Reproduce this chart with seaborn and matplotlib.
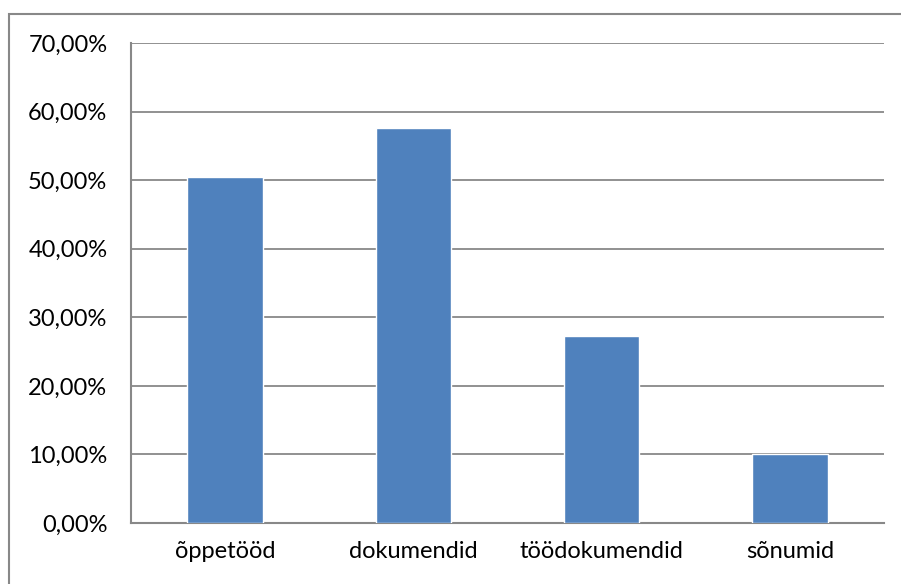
import matplotlib
matplotlib.use("Agg")
import matplotlib.pyplot as plt
import matplotlib.patches as mpatches
from matplotlib.ticker import FuncFormatter, MultipleLocator
import seaborn as sns
import pandas as pd

categories = ["õppetööd", "dokumendid", "töödokumendid", "sõnumid"]
shares = [50.5, 57.6, 27.2, 10.0]  # percent

sns.set_theme(style="white")
plt.rcParams["font.family"] = ["Lato", "DejaVu Sans"]

df = pd.DataFrame({"kategooria": categories, "osakaal": shares})

fig = plt.figure(figsize=(9.01, 5.84), dpi=100)
ax = fig.add_axes([131 / 901, 1 - 523 / 584, (884 - 131) / 901, (523 - 43) / 584])

sns.barplot(data=df, x="kategooria", y="osakaal", color="#4F81BD",
            saturation=1, width=0.4, ax=ax, zorder=3)

ax.set_ylim(0, 70)
ax.set_xlim(-0.5, len(categories) - 0.5)
ax.yaxis.set_major_locator(MultipleLocator(10))
ax.yaxis.set_major_formatter(FuncFormatter(lambda v, _: f"{v:.2f}".replace(".", ",") + "%"))
ax.grid(axis="y", color="#888888", linewidth=1.3, zorder=0)
ax.set_axisbelow(True)

ax.set_xlabel("")
ax.set_ylabel("")
ax.tick_params(axis="y", length=0, pad=17, labelsize=17, colors="black")
ax.tick_params(axis="x", length=0, pad=13, labelsize=17, colors="black")

for side in ["top", "right"]:
    ax.spines[side].set_visible(False)
for side in ["left", "bottom"]:
    ax.spines[side].set_color("#888888")
    ax.spines[side].set_linewidth(1.5)

# chart frame around the whole figure
frame = mpatches.Rectangle((9 / 901, -0.1), 1.2, (584 - 14) / 584 + 0.1,
                           transform=fig.transFigure, fill=False,
                           edgecolor="#888888", linewidth=1.5, clip_on=False)
fig.patches.append(frame)

fig.savefig("out.png", dpi=100)
